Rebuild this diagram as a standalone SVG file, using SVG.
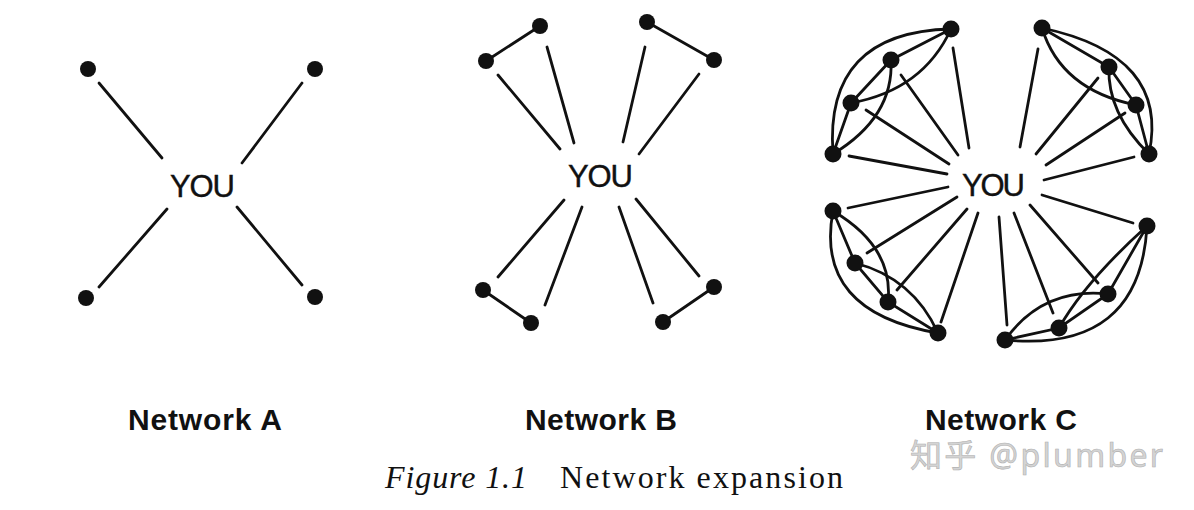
<svg xmlns="http://www.w3.org/2000/svg" width="1194" height="510" viewBox="0 0 1194 510">
<style>
.l{stroke:#111;stroke-width:2.8;fill:none;stroke-linecap:round}
.d{fill:#111}
.you{font-family:"Liberation Sans",Arial,sans-serif;font-size:31px;fill:#111;stroke:#111;stroke-width:0.4;text-anchor:middle}
.lab{font-family:"Liberation Sans",Arial,sans-serif;font-size:30px;font-weight:bold;fill:#111}
.cap{font-family:"Liberation Serif","Times New Roman",serif;font-size:32px;fill:#111}
.wm{font-family:"Noto Sans","Noto Sans CJK SC",sans-serif;font-size:32px;fill:#d4d4d4;stroke:#b0b0b0;stroke-width:0.6}
</style>
<rect width="1194" height="510" fill="#fff"/>
<g id="connectors">
<!-- Network A -->
<line class="l" x1="99" y1="83" x2="162" y2="158"/>
<line class="l" x1="302" y1="83" x2="242" y2="163"/>
<line class="l" x1="167" y1="209" x2="99" y2="287"/>
<line class="l" x1="237" y1="207" x2="302" y2="285"/>
<!-- Network B -->
<line class="l" x1="486" y1="61" x2="540" y2="26"/>
<line class="l" x1="647" y1="22" x2="714" y2="60"/>
<line class="l" x1="483" y1="290" x2="531" y2="323"/>
<line class="l" x1="663" y1="322" x2="714" y2="287"/>
<line class="l" x1="498" y1="75" x2="560" y2="149"/>
<line class="l" x1="547" y1="47" x2="574" y2="143"/>
<line class="l" x1="645" y1="47" x2="623" y2="142"/>
<line class="l" x1="699" y1="74" x2="639" y2="154"/>
<line class="l" x1="564" y1="200" x2="498" y2="277"/>
<line class="l" x1="582" y1="207" x2="545" y2="305"/>
<line class="l" x1="619" y1="207" x2="653" y2="303"/>
<line class="l" x1="636" y1="199" x2="699" y2="276"/>
<!-- Network C spokes -->
<line class="l" x1="953" y1="48" x2="969" y2="148"/>
<line class="l" x1="901" y1="75" x2="958" y2="155"/>
<line class="l" x1="866" y1="110" x2="949" y2="164"/>
<line class="l" x1="849" y1="156" x2="947" y2="174"/>
<line class="l" x1="848" y1="208" x2="948" y2="187"/>
<line class="l" x1="867" y1="253" x2="957" y2="197"/>
<line class="l" x1="897" y1="290" x2="967" y2="209"/>
<line class="l" x1="941" y1="322" x2="978" y2="213"/>
<line class="l" x1="1038" y1="49" x2="1020" y2="147"/>
<line class="l" x1="1098" y1="78" x2="1036" y2="154"/>
<line class="l" x1="1125" y1="113" x2="1046" y2="165"/>
<line class="l" x1="1134" y1="157" x2="1044" y2="180"/>
<line class="l" x1="1133" y1="223" x2="1042" y2="195"/>
<line class="l" x1="1098" y1="283" x2="1030" y2="205"/>
<line class="l" x1="1053" y1="313" x2="1014" y2="213"/>
<line class="l" x1="1007" y1="325" x2="999" y2="217"/>
<!-- Network C clusters -->
<path class="l" d="M951,29 L891,60 L851,103 L833,154"/>
<path class="l" d="M951,29 Q824,32 833,154"/>
<path class="l" d="M951,29 Q923,90 851,103"/>
<path class="l" d="M891,60 Q894,117 833,154"/>
<path class="l" d="M1042,28 L1109,67 L1136,105 L1149,154"/>
<path class="l" d="M1042,28 Q1170,55 1149,154"/>
<path class="l" d="M1042,28 Q1061,90 1136,105"/>
<path class="l" d="M1109,67 Q1107,113 1149,154"/>
<path class="l" d="M833,211 L855,263 L888,302 L938,333"/>
<path class="l" d="M833,211 Q814,312 938,333"/>
<path class="l" d="M833,211 Q894,247 888,302"/>
<path class="l" d="M855,263 Q913,278 938,333"/>
<path class="l" d="M1147,226 L1108,294 L1059,328 L1005,340"/>
<path class="l" d="M1147,226 Q1140,353 1005,340"/>
<path class="l" d="M1147,226 Q1085,282 1059,328"/>
<path class="l" d="M1108,294 Q1043,287 1005,340"/>
</g>
<g id="networkA">
<circle class="d" cx="88" cy="69" r="8"/>
<circle class="d" cx="315" cy="69" r="8"/>
<circle class="d" cx="86" cy="298" r="8"/>
<circle class="d" cx="315" cy="297" r="8"/>
<text class="you" x="202.5" y="197" textLength="65">YOU</text>
</g>
<g id="networkB">
<circle class="d" cx="486" cy="61" r="8"/>
<circle class="d" cx="540" cy="26" r="8"/>
<circle class="d" cx="647" cy="22" r="8"/>
<circle class="d" cx="714" cy="60" r="8"/>
<circle class="d" cx="483" cy="290" r="8"/>
<circle class="d" cx="531" cy="323" r="8"/>
<circle class="d" cx="663" cy="322" r="8"/>
<circle class="d" cx="714" cy="287" r="8"/>
<text class="you" x="600.5" y="187" textLength="65">YOU</text>
</g>
<g id="networkC">
<circle class="d" cx="951" cy="29" r="8.5"/>
<circle class="d" cx="891" cy="60" r="8.5"/>
<circle class="d" cx="851" cy="103" r="8.5"/>
<circle class="d" cx="833" cy="154" r="8.5"/>
<circle class="d" cx="1042" cy="28" r="8.5"/>
<circle class="d" cx="1109" cy="67" r="8.5"/>
<circle class="d" cx="1136" cy="105" r="8.5"/>
<circle class="d" cx="1149" cy="154" r="8.5"/>
<circle class="d" cx="833" cy="211" r="8.5"/>
<circle class="d" cx="855" cy="263" r="8.5"/>
<circle class="d" cx="888" cy="302" r="8.5"/>
<circle class="d" cx="938" cy="333" r="8.5"/>
<circle class="d" cx="1147" cy="226" r="8.5"/>
<circle class="d" cx="1108" cy="294" r="8.5"/>
<circle class="d" cx="1059" cy="328" r="8.5"/>
<circle class="d" cx="1005" cy="340" r="8.5"/>
<text class="you" x="993.5" y="196" textLength="63">YOU</text>
</g>
<g id="labels">
<text class="lab" x="128" y="430" textLength="154">Network A</text>
<text class="lab" x="525" y="430" textLength="152">Network B</text>
<text class="lab" x="925" y="430" textLength="152">Network C</text>
<text class="cap" x="385" y="488"><tspan font-style="italic" textLength="142">Figure 1.1</tspan><tspan x="560" textLength="283">Network expansion</tspan></text>
<text class="wm" x="910" y="467" textLength="253">知乎 @plumber</text>
</g>
</svg>
